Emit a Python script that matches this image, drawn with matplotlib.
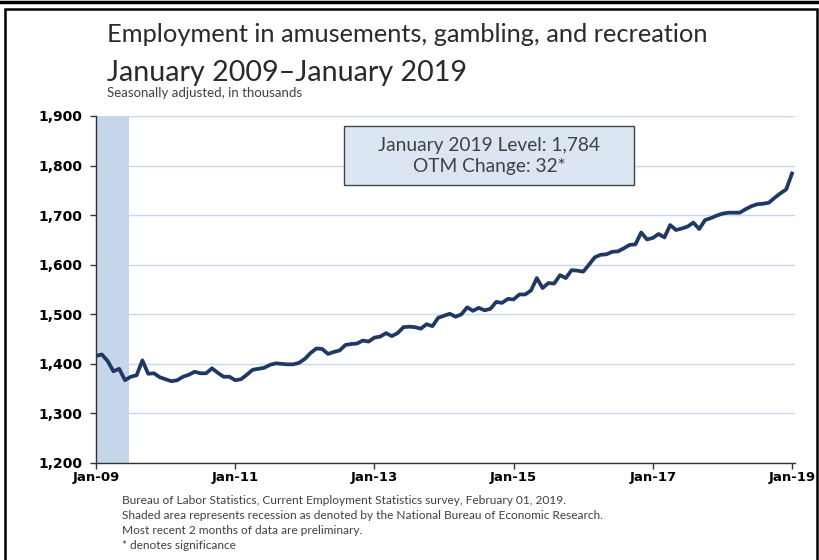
import matplotlib

matplotlib.use("Agg")
import matplotlib.pyplot as plt
from matplotlib.lines import Line2D
from matplotlib.patches import Rectangle


# monthly employment, Jan 2009 - Jan 2019 (thousands, SA)
values_2009 = [1416, 1419, 1406, 1385, 1390, 1367, 1374, 1377, 1407, 1380, 1381, 1373]
values_2010 = [1369, 1365, 1367, 1374, 1378, 1384, 1381, 1381, 1391, 1382, 1374, 1374]
values_2011 = [1367, 1369, 1378, 1388, 1390, 1392, 1398, 1401, 1400, 1399, 1399, 1402]
values_2012 = [1410, 1422, 1431, 1430, 1420, 1424, 1427, 1438, 1440, 1441, 1447, 1445]
values_2013 = [1453, 1455, 1462, 1456, 1462, 1474, 1475, 1474, 1471, 1480, 1476, 1493]
values_2014 = [1497, 1501, 1495, 1500, 1514, 1507, 1513, 1508, 1511, 1525, 1523, 1531]
values_2015 = [1530, 1540, 1540, 1548, 1573, 1553, 1563, 1562, 1579, 1573, 1589, 1588]
values_2016 = [1586, 1600, 1615, 1620, 1621, 1626, 1627, 1633, 1640, 1641, 1665, 1651]
values_2017 = [1654, 1662, 1655, 1680, 1670, 1673, 1677, 1685, 1672, 1690, 1694, 1699]
values_2018 = [1703, 1705, 1705, 1705, 1712, 1718, 1722, 1723, 1725, 1735, 1744, 1752]
values_2019 = [1784]

employment = (values_2009 + values_2010 + values_2011 + values_2012 + values_2013
              + values_2014 + values_2015 + values_2016 + values_2017 + values_2018
              + values_2019)
months = list(range(len(employment)))

# recession (through June 2009), in month index units
recession_start = 0
recession_end = 5.7

x_tick_pos = [0, 24, 48, 72, 96, 120]
x_tick_labels = ["Jan-09", "Jan-11", "Jan-13", "Jan-15", "Jan-17", "Jan-19"]
y_ticks = [1200, 1300, 1400, 1500, 1600, 1700, 1800, 1900]

title_1 = "Employment in amusements, gambling, and recreation"
title_2 = "January 2009\u2013January 2019"
subtitle = "Seasonally adjusted, in thousands"
box_lines = ["January 2019 Level: 1,784", "OTM Change: 32*"]
notes = [
    "Bureau of Labor Statistics, Current Employment Statistics survey, February 01, 2019.",
    "Shaded area represents recession as denoted by the National Bureau of Economic Research.",
    "Most recent 2 months of data are preliminary.",
    "* denotes significance",
]

LINE_COLOR = "#1f3864"
GRID_COLOR = "#c6d9f1"
SHADE_COLOR = "#c5d5ea"
TEXT_GRAY = "#404040"
TEXT_FONT = "Lato"

W, H = 820, 560


def fx(px):
    return px / W


def fy(py):
    return 1 - py / H


fig = plt.figure(figsize=(8.2, 5.6), dpi=100)

ax = fig.add_axes([fx(96), fy(463), fx(795) - fx(96), fy(116) - fy(463)])
ax.axvspan(recession_start, recession_end, color=SHADE_COLOR, lw=0, zorder=0)
ax.plot(months, employment, color=LINE_COLOR, lw=2.7, solid_joinstyle="round", zorder=3)

ax.set_xlim(0, 120 * 699 / 696)
ax.set_ylim(1200, 1900)
ax.set_yticks(y_ticks)
ax.set_yticklabels([f"{v:,}" for v in y_ticks], fontsize=10, fontweight="bold")
ax.set_xticks(x_tick_pos)
ax.set_xticklabels(x_tick_labels, fontsize=9.5, fontweight="bold")
ax.grid(axis="y", color=GRID_COLOR, lw=1)
ax.set_axisbelow(True)
for side in ["top", "right"]:
    ax.spines[side].set_visible(False)
for side in ["left", "bottom"]:
    ax.spines[side].set_color("#333333")
    ax.spines[side].set_linewidth(1)
ax.tick_params(axis="y", length=4, width=1, color="#333333", pad=6)
ax.tick_params(axis="x", length=4, width=1, color="#333333", pad=2)

# titles
fig.text(fx(107), fy(35), title_1, fontsize=18.3, family=TEXT_FONT,
         color="#2a2a2a", va="center", ha="left")
fig.text(fx(107), fy(73), title_2, fontsize=20.6, family=TEXT_FONT,
         color="#2a2a2a", va="center", ha="left")
fig.text(fx(107), fy(93), subtitle, fontsize=9.5, family=TEXT_FONT,
         color=TEXT_GRAY, va="center", ha="left")

# level / change box
fig.add_artist(Rectangle((fx(344), fy(185)), fx(634) - fx(344), fy(126) - fy(185),
                         transform=fig.transFigure, facecolor="#dce6f2",
                         edgecolor="#444444", lw=1, zorder=5))
fig.text(fx(489), fy(146), box_lines[0], fontsize=13.8, family=TEXT_FONT,
         color=TEXT_GRAY, ha="center", va="center", zorder=6)
fig.text(fx(489), fy(166), box_lines[1], fontsize=13.8, family=TEXT_FONT,
         color=TEXT_GRAY, ha="center", va="center", zorder=6)

# footnotes
for i, line in enumerate(notes):
    fig.text(fx(122), fy(500 + 15.3 * i), line, fontsize=8.6, family=TEXT_FONT,
             color=TEXT_GRAY, ha="left", va="center")

# frame around the chart
fig.add_artist(Line2D([0, 1], [fy(1.5), fy(1.5)], transform=fig.transFigure,
                      color="black", lw=2.5))
fig.add_artist(Rectangle((fx(5.5), fy(575)), fx(817) - fx(5.5), fy(8.5) - fy(575),
                         transform=fig.transFigure, fill=False,
                         edgecolor="black", lw=1.8))

fig.savefig("out.png", dpi=100)
